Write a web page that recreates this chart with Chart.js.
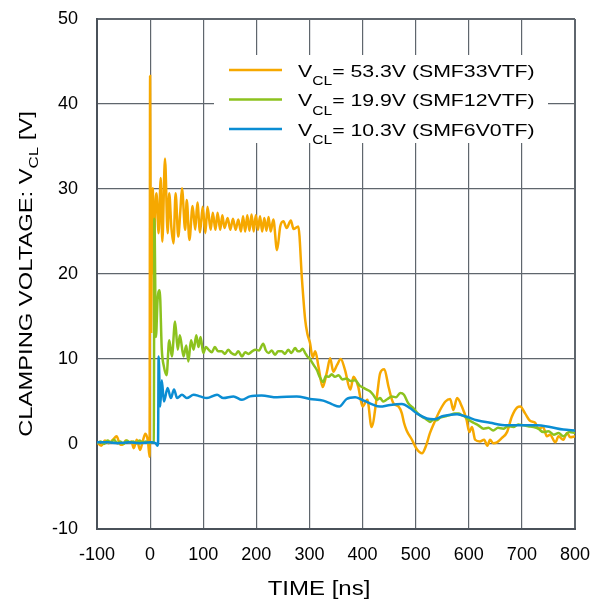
<!DOCTYPE html>
<html>
<head>
<meta charset="utf-8">
<script src="https://cdn.jsdelivr.net/npm/chart.js@4.4.1/dist/chart.umd.min.js"></script>
<style>
  html, body { margin: 0; padding: 0; background: #fff; }
  #wrap { position: relative; width: 604px; height: 603px; }
</style>
</head>
<body>
<div id="wrap"><canvas id="c" width="604" height="603"></canvas></div>
<script>
// ---------------- DATA ----------------
const xTicks = [-100, 0, 100, 200, 300, 400, 500, 600, 700, 800];
const yTicks = [-10, 0, 10, 20, 30, 40, 50];

const seriesLabels = ["53.3V (SMF33VTF)", "19.9V (SMF12VTF)", "10.3V (SMF6V0TF)"];

// SMF33VTF (orange)
const tOrange = [
  -100,-92,-85,-78,-70,-63,-57,-52,-46,-40,
  -35,-31,-25,-19,-14,-9,-4,-1,0,1,
  2,3,5,7,9,12,16,20,23,28,
  33,36,40,44,48,53,57,60,66,69,
  74,80,85,89,94,99,104,108,114,118,
  123,127,132,136,140,146,151,156,161,166,
  171,175,179,183,187,191,195,199,203,207,
  211,215,219,223,227,232,239,245,251,257,
  265,270,279,286,292,296,301,306,311,317,
  325,333,339,345,352,359,367,377,383,392,
  400,409,417,427,433,441,449,458,468,474,
  478,483,493,502,512,519,527,537,546,556,
  565,571,578,587,596,601,606,612,621,629,
  635,640,646,653,662,672,681,691,697,706,
  716,725,731,740,747,753,763,769,778,785,
  791,800
];
const vOrange = [
  0.2,-0.2,0.4,0.1,0.5,0.9,0.0,-0.1,0.4,0.2,
  0.3,-0.5,0.5,-0.7,0.3,1.2,0.3,-1.5,43.3,25,
  13.2,22,30.1,20,26.7,29.5,24.8,31.3,23.8,33.6,
  24.8,29.5,25.5,23.6,29.5,24.4,27.5,30.1,25.2,28.7,
  24,28,25.2,28.4,24.9,27.9,24.8,27.9,25.2,27.2,
  25.2,27.2,25.2,26.9,25.4,26.6,25.2,26.5,25.2,26.4,
  25.0,26.8,25.0,26.9,25.1,27.0,25.0,26.9,25.2,26.8,
  25.0,26.6,25.1,26.7,25.0,26.4,22.8,25.6,26.2,25.4,
  26.3,25.3,25.6,19.3,14.6,13,11.9,10.2,10.9,9.1,
  6.7,8.5,10.1,8.5,9.3,10.0,8.7,6.4,7.9,6.7,
  4.4,5.2,2.0,5.6,8.3,8.8,6.7,4.8,4.4,3.6,
  2.5,1.6,0.5,-0.6,-1.1,-0.3,1.3,2.8,4.0,5.0,
  5.3,4.0,5.4,4.4,2.8,1.4,2.0,0.5,0.3,0.5,
  -0.2,0.5,0.1,0.2,0.7,1.4,3.2,4.3,4.4,3.6,
  2.7,2.5,1.8,2.0,0.9,1.1,0.2,0.9,0.5,1.3,
  0.8,0.9
];

// SMF12VTF (green)
const tGreen = [
  -100,-93,-87,-80,-74,-68,-62,-56,-50,-44,
  -38,-32,-26,-20,-14,-8,-2,3,7,8,
  11,14,18,22,26,31,36,41,47,52,
  56,63,68,72,77,82,87,91,95,100,
  105,110,116,122,128,135,141,147,153,160,
  166,173,179,185,192,198,205,213,218,223,
  229,235,241,248,254,260,266,273,278,282,
  287,292,296,300,304,309,314,320,326,331,
  336,342,348,355,362,370,378,386,394,402,
  408,414,420,427,433,439,447,455,463,471,
  478,486,496,504,512,520,527,534,540,546,
  552,558,565,573,581,587,593,601,609,618,
  628,637,646,655,665,674,684,693,703,712,
  722,731,740,750,760,769,778,789,800
];
const vGreen = [
  0.1,0.3,0.0,0.4,0.2,0.5,0.1,0.3,0.0,0.4,
  0.2,0.3,0.1,0.4,0.2,0.3,0.1,0.2,0.3,26.5,
  12.6,16.9,18.1,11.1,9.1,8.1,12.2,10.3,14.4,11.1,
  12.8,10.3,11.6,9.7,12.2,11.1,12.8,11.4,12.6,10.7,
  11.4,11.1,10.8,11.4,10.9,10.9,10.6,11.1,10.7,10.5,
  10.9,10.3,10.8,10.6,10.9,11.1,11.0,11.8,11.0,10.7,
  11.0,10.5,10.9,10.9,10.6,11.1,10.7,11.3,10.9,10.9,
  11.2,10.7,10.3,10.1,9.7,9.2,8.7,7.8,7.3,8.0,
  7.9,8.2,7.9,8.1,7.6,7.7,7.4,7.5,6.9,6.6,
  6.4,6.2,5.8,5.2,5.4,5.0,5.3,5.6,5.5,6.0,
  5.8,4.8,4.2,3.6,3.2,2.9,2.6,2.9,2.8,3.1,
  3.2,3.3,3.4,3.6,3.6,3.4,3.2,2.8,2.5,2.2,
  1.8,1.9,1.6,1.9,1.8,2.1,2.0,2.3,2.2,2.1,
  2.0,1.8,1.4,1.5,1.1,1.3,0.9,1.4,1.3
];

// SMF6V0TF (blue)
const tBlue = [
  -100,-80,-60,-40,-20,0,10,14,15,16,
  19,22,26,33,39,45,51,60,69,82,
  94,107,126,138,157,173,188,210,239,276,
  301,326,342,356,370,386,399,417,433,452,
  474,490,502,521,534,552,578,596,615,640,
  672,703,728,753,778,800
];
const vBlue = [
  0.2,0.2,0.1,0.2,0.1,0.2,0.1,-0.2,0.2,10.3,
  4.4,7.5,5.0,6.6,5.4,6.4,5.4,5.8,5.4,5.8,
  5.6,5.4,5.8,5.4,5.6,5.2,5.6,5.7,5.5,5.6,
  5.3,5.1,4.7,4.4,5.3,5.5,5.2,4.7,4.4,4.6,
  4.7,4.2,3.6,3.0,2.9,3.3,3.5,3.2,2.8,2.5,
  2.2,2.2,2.2,2.0,1.7,1.6
];

// ---------------- STYLE ----------------
const COLORS = ['#f6a800', '#8cc21e', '#0b8dd3'];
const FONT = '"Liberation Sans", Arial, Helvetica, sans-serif';
const SX = 1.25; // horizontal text stretch of the reference

function zip(t, v) { return t.map((x, i) => ({ x: x, y: v[i] })); }

function partsWidth(ctx, parts) {
  let w = 0;
  for (const p of parts) { ctx.font = p.size + 'px ' + FONT; w += ctx.measureText(p.text).width; }
  return w;
}
function drawParts(ctx, parts, x, y, sx, align) {
  ctx.save();
  ctx.translate(x, y);
  ctx.scale(sx, 1);
  ctx.textBaseline = 'alphabetic';
  ctx.textAlign = 'left';
  ctx.fillStyle = '#000';
  let cx = align === 'center' ? -partsWidth(ctx, parts) / 2 : 0;
  for (const p of parts) {
    ctx.font = p.size + 'px ' + FONT;
    ctx.fillText(p.text, cx, p.dy || 0);
    cx += ctx.measureText(p.text).width;
  }
  ctx.restore();
}

const textPlugin = {
  id: 'texts',
  beforeDatasetsDraw(chart) {
    const ctx = chart.ctx;
    ctx.save();
    ctx.fillStyle = '#fff';
    ctx.fillRect(214, 55, 334, 88);
    ctx.restore();
  },
  afterDraw(chart) {
    const ctx = chart.ctx;
    // legend
    const rows = [70, 99.5, 129];
    rows.forEach((ry, i) => {
      ctx.save();
      ctx.strokeStyle = COLORS[i];
      ctx.lineWidth = 2.5;
      ctx.beginPath();
      ctx.moveTo(229, ry);
      ctx.lineTo(282, ry);
      ctx.stroke();
      ctx.restore();
      drawParts(ctx, [
        { text: 'V', size: 17 },
        { text: 'CL', size: 12.5, dy: 8.5 },
        { text: '= ' + seriesLabels[i], size: 17 }
      ], 298, ry + 6.5, SX, 'left');
    });
    // x title
    drawParts(ctx, [{ text: 'TIME [ns]', size: 20 }], 319, 595, 1.2, 'center');
    // y title (rotated)
    ctx.save();
    ctx.translate(32, 274);
    ctx.rotate(-Math.PI / 2);
    drawParts(ctx, [
      { text: 'CLAMPING VOLTAGE: V', size: 19 },
      { text: 'CL', size: 13.5, dy: 5.5 },
      { text: ' [V]', size: 19 }
    ], 0, 0, SX, 'center');
    ctx.restore();
  }
};

function edgeWidth(ctxs, n) {
  return (ctxs.index === 0 || ctxs.index === n - 1) ? 2 : 1.2;
}

new Chart(document.getElementById('c'), {
  type: 'line',
  data: {
    datasets: [
      { label: seriesLabels[0], data: zip(tOrange, vOrange), borderColor: COLORS[0], order: 2 },
      { label: seriesLabels[1], data: zip(tGreen, vGreen), borderColor: COLORS[1], order: 1 },
      { label: seriesLabels[2], data: zip(tBlue, vBlue), borderColor: COLORS[2], order: 0 }
    ]
  },
  options: {
    responsive: false,
    animation: false,
    devicePixelRatio: 1,
    layout: { padding: { top: 19, right: 29, left: 0, bottom: 0 } },
    elements: {
      line: { borderWidth: 2.5, cubicInterpolationMode: 'monotone', fill: false },
      point: { radius: 0, hoverRadius: 0 }
    },
    plugins: { legend: { display: false }, tooltip: { enabled: false }, title: { display: false } },
    events: [],
    scales: {
      x: {
        type: 'linear',
        min: xTicks[0], max: xTicks[xTicks.length - 1],
        afterBuildTicks: (s) => { s.ticks = xTicks.map(v => ({ value: v })); },
        afterFit: (s) => { s.height = 74; s.paddingLeft = 0; s.paddingRight = 0; },
        ticks: { autoSkip: false, maxRotation: 0, color: '#000', padding: 15,
                 font: { family: FONT, size: 18 } },
        grid: { color: '#5f666d', lineWidth: (c) => edgeWidth(c, xTicks.length), drawTicks: false },
        border: { color: '#4a5159', width: 2 },
        title: { display: false }
      },
      y: {
        type: 'linear',
        min: yTicks[0], max: yTicks[yTicks.length - 1],
        afterBuildTicks: (s) => { s.ticks = yTicks.map(v => ({ value: v })); },
        afterFit: (s) => { s.width = 97; s.paddingTop = 0; s.paddingBottom = 0; },
        ticks: { autoSkip: false, color: '#000', padding: 19,
                 font: { family: FONT, size: 18 } },
        grid: { color: '#5f666d', lineWidth: (c) => edgeWidth(c, yTicks.length), drawTicks: false },
        border: { color: '#4a5159', width: 2 },
        title: { display: false }
      }
    }
  },
  plugins: [textPlugin]
});
</script>
</body>
</html>
